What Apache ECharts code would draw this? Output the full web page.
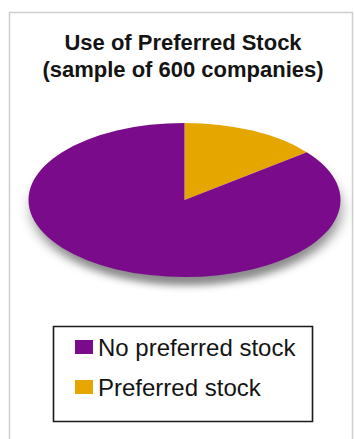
<!DOCTYPE html>
<html>
<head>
<meta charset="utf-8">
<script src="https://cdn.jsdelivr.net/npm/echarts@6/dist/echarts.min.js"></script>
<style>
  html, body { margin: 0; padding: 0; background: #fff; }
  #wrap { position: relative; width: 355px; height: 439px; overflow: hidden; }
  #main { position: absolute; left: 0; top: 0; width: 355px; height: 439px; }
  #pie { position: absolute; left: 0; top: 0; width: 355px; height: 400px;
         transform: scaleY(0.494); transform-origin: 184.5px 200px; }
</style>
</head>
<body>
<div id="wrap">
  <div id="main"></div>
  <div id="pie"></div>
</div>
<script>
// ---- data ----
const titleLines = ['Use of Preferred Stock', '(sample of 600 companies)'];
const categories = ['Preferred stock', 'No preferred stock'];
const companies = [86, 514];
const legendOrder = ['No preferred stock', 'Preferred stock'];
const sliceColors = ['#e6a600', '#7a0c8c'];

const pieData = categories.map((name, i) => ({ name: name, value: companies[i] }));
const FONT = '"Liberation Sans", Arial, Helvetica, sans-serif';

// ---- main chart: frame, title, legend ----
const main = echarts.init(document.getElementById('main'), null, { renderer: 'svg' });
main.setOption({
  backgroundColor: '#ffffff',
  animation: false,
  color: sliceColors,
  title: {
    text: titleLines.join('\n'),
    left: 183,
    top: 29,
    padding: 0,
    textAlign: 'center',
    textStyle: {
      fontFamily: FONT, fontWeight: 'bold', fontSize: 22, lineHeight: 27, color: '#141414'
    }
  },
  legend: {
    data: legendOrder,
    orient: 'vertical',
    left: 75,
    top: 335,
    padding: 0,
    itemGap: 16,
    itemWidth: 18,
    itemHeight: 14,
    icon: 'rect',
    selectedMode: false,
    textStyle: { fontFamily: FONT, fontSize: 24, lineHeight: 24, color: '#141414' }
  },
  graphic: [
    { type: 'rect', silent: true, z: -10,
      shape: { x: 9.5, y: 12.5, width: 343, height: 440 },
      style: { fill: 'none', stroke: '#cfcfcf', lineWidth: 1.5 } },
    { type: 'rect', silent: true,
      shape: { x: 53.5, y: 326.5, width: 259, height: 95 },
      style: { fill: 'none', stroke: '#1a1a1a', lineWidth: 1.6 } }
  ],
  series: [{
    type: 'pie',
    silent: true,
    radius: [0, 0],
    center: [-100, -100],
    label: { show: false },
    labelLine: { show: false },
    data: pieData
  }]
});

// ---- pie chart (squashed vertically into an ellipse) ----
const pie = echarts.init(document.getElementById('pie'), null, { renderer: 'svg' });
pie.setOption({
  backgroundColor: 'transparent',
  animation: false,
  color: sliceColors,
  graphic: [{
    type: 'circle', silent: true, z: -1,
    shape: { cx: 184.5, cy: 200, r: 154 },
    style: { fill: '#ffffff', shadowBlur: 14, shadowOffsetY: 19, shadowOffsetX: 2,
             shadowColor: 'rgba(0,0,0,0.45)' }
  }],
  series: [{
    type: 'pie',
    silent: true,
    center: [184.5, 200],
    radius: 156,
    startAngle: 90,
    clockwise: true,
    label: { show: false },
    labelLine: { show: false },
    itemStyle: { borderWidth: 0 },
    data: pieData
  }]
});
</script>
</body>
</html>
